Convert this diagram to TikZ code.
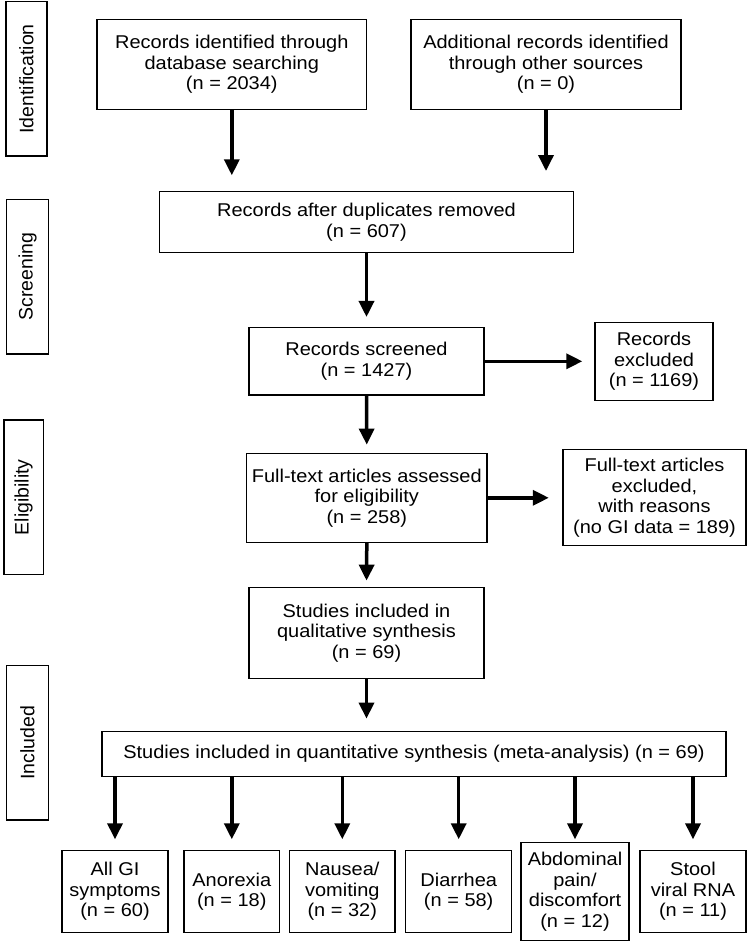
\documentclass[tikz,border=0pt]{standalone}
\usepackage{fontspec}
\setmainfont{Liberation Sans}[FakeStretch=1.08]
\newfontfamily\sidefont{Liberation Sans}
\usetikzlibrary{arrows.meta}
\begin{document}
\begin{tikzpicture}[x=1pt,y=-1pt,
  box/.style={draw, line width=1.4pt, align=center, inner sep=0pt,
    font=\fontsize{18.5}{20.5}\selectfont},
  side/.style={draw, line width=1.4pt, inner sep=0pt, rotate=90,
    minimum width=154.3pt, font=\sidefont\fontsize{19.5}{22}\selectfont},
  arr/.style={line width=3.5pt, -{Triangle[length=16pt,width=15pt]}}]
\useasboundingbox (0,0) rectangle (749,943);
% side labels
\node[side, minimum height=41pt] (s1) at (26.3,78.9) {Identification};
\node[side, minimum height=41.6pt] (s2) at (27.5,276.7) {Screening};
\node[side, minimum height=39.7pt] (s3) at (23.7,497.2) {Eligibility};
\node[side, minimum height=41.6pt] (s4) at (27.5,742.9) {Included};
% main boxes
\node[box, minimum width=269.5pt, minimum height=90pt] (A) at (231.8,64.3)
  {Records identified through\\database searching\\(n = 2034)};
\node[box, minimum width=270pt, minimum height=90pt] (B) at (546,64.3)
  {Additional records identified\\through other sources\\(n = 0)};
\node[box, minimum width=413.7pt, minimum height=60.6pt] (C) at (366.5,222)
  {Records after duplicates removed\\(n = 607)};
\node[box, minimum width=235pt, minimum height=67.3pt] (D) at (366.5,361.3)
  {Records screened\\(n = 1427)};
\node[box, minimum width=118pt, minimum height=78.4pt] (E) at (654,361.5)
  {Records\\excluded\\(n = 1169)};
\node[box, minimum width=240.5pt, minimum height=89pt] (F) at (366.8,497.8)
  {Full-text articles assessed\\for eligibility\\(n = 258)};
\node[box, minimum width=183pt, minimum height=96.4pt] (G) at (654.5,497.5)
  {Full-text articles\\excluded,\\with reasons\\(no GI data = 189)};
\node[box, minimum width=235pt, minimum height=91pt] (H) at (366.5,632.8)
  {Studies included in\\qualitative synthesis\\(n = 69)};
\node[box, minimum width=624pt, minimum height=45pt] (I) at (414,754.2)
  {Studies included in quantitative synthesis (meta-analysis) (n = 69)};
% bottom boxes
\node[box, minimum width=106pt, minimum height=81.6pt] (b1) at (115,891.5)
  {All GI\\symptoms\\(n = 60)};
\node[box, minimum width=95.5pt, minimum height=81.6pt] (b2) at (231.8,891.5)
  {Anorexia\\(n = 18)};
\node[box, minimum width=105.5pt, minimum height=81.6pt] (b3) at (342.3,891.5)
  {Nausea/\\vomiting\\(n = 32)};
\node[box, minimum width=106pt, minimum height=81.6pt] (b4) at (458.7,891.5)
  {Diarrhea\\(n = 58)};
\node[box, minimum width=108pt, minimum height=98pt] (b5) at (575,891.7)
  {Abdominal\\pain/\\discomfort\\(n = 12)};
\node[box, minimum width=106pt, minimum height=81.6pt] (b6) at (693,891.5)
  {Stool\\viral RNA\\(n = 11)};
% arrows
\draw[arr, shorten >=15.7pt] (A.south) -- (A.south |- C.north);
\draw[arr, shorten >=20pt] (B.south) -- (B.south |- C.north);
\draw[arr, shorten >=10pt] (C.south) -- (D.north);
\draw[arr, shorten >=12pt] (D.east) -- (E.west |- D.east);
\draw[arr, shorten >=8pt] (D.south) -- (F.north);
\draw[arr, shorten >=13.5pt] (F.east) -- (G.west |- F.east);
\draw[arr, shorten >=6pt] (F.south) -- (H.north);
\draw[arr, shorten >=12.4pt] (H.south) -- (H.south |- I.north);
\foreach \b/\s in {b1/10.7, b2/10.7, b3/10.7, b4/10.7, b5/2.7, b6/10.7}
  \draw[arr, shorten >=\s pt] (I.south -| \b.north) -- (\b.north);
\end{tikzpicture}
\end{document}
